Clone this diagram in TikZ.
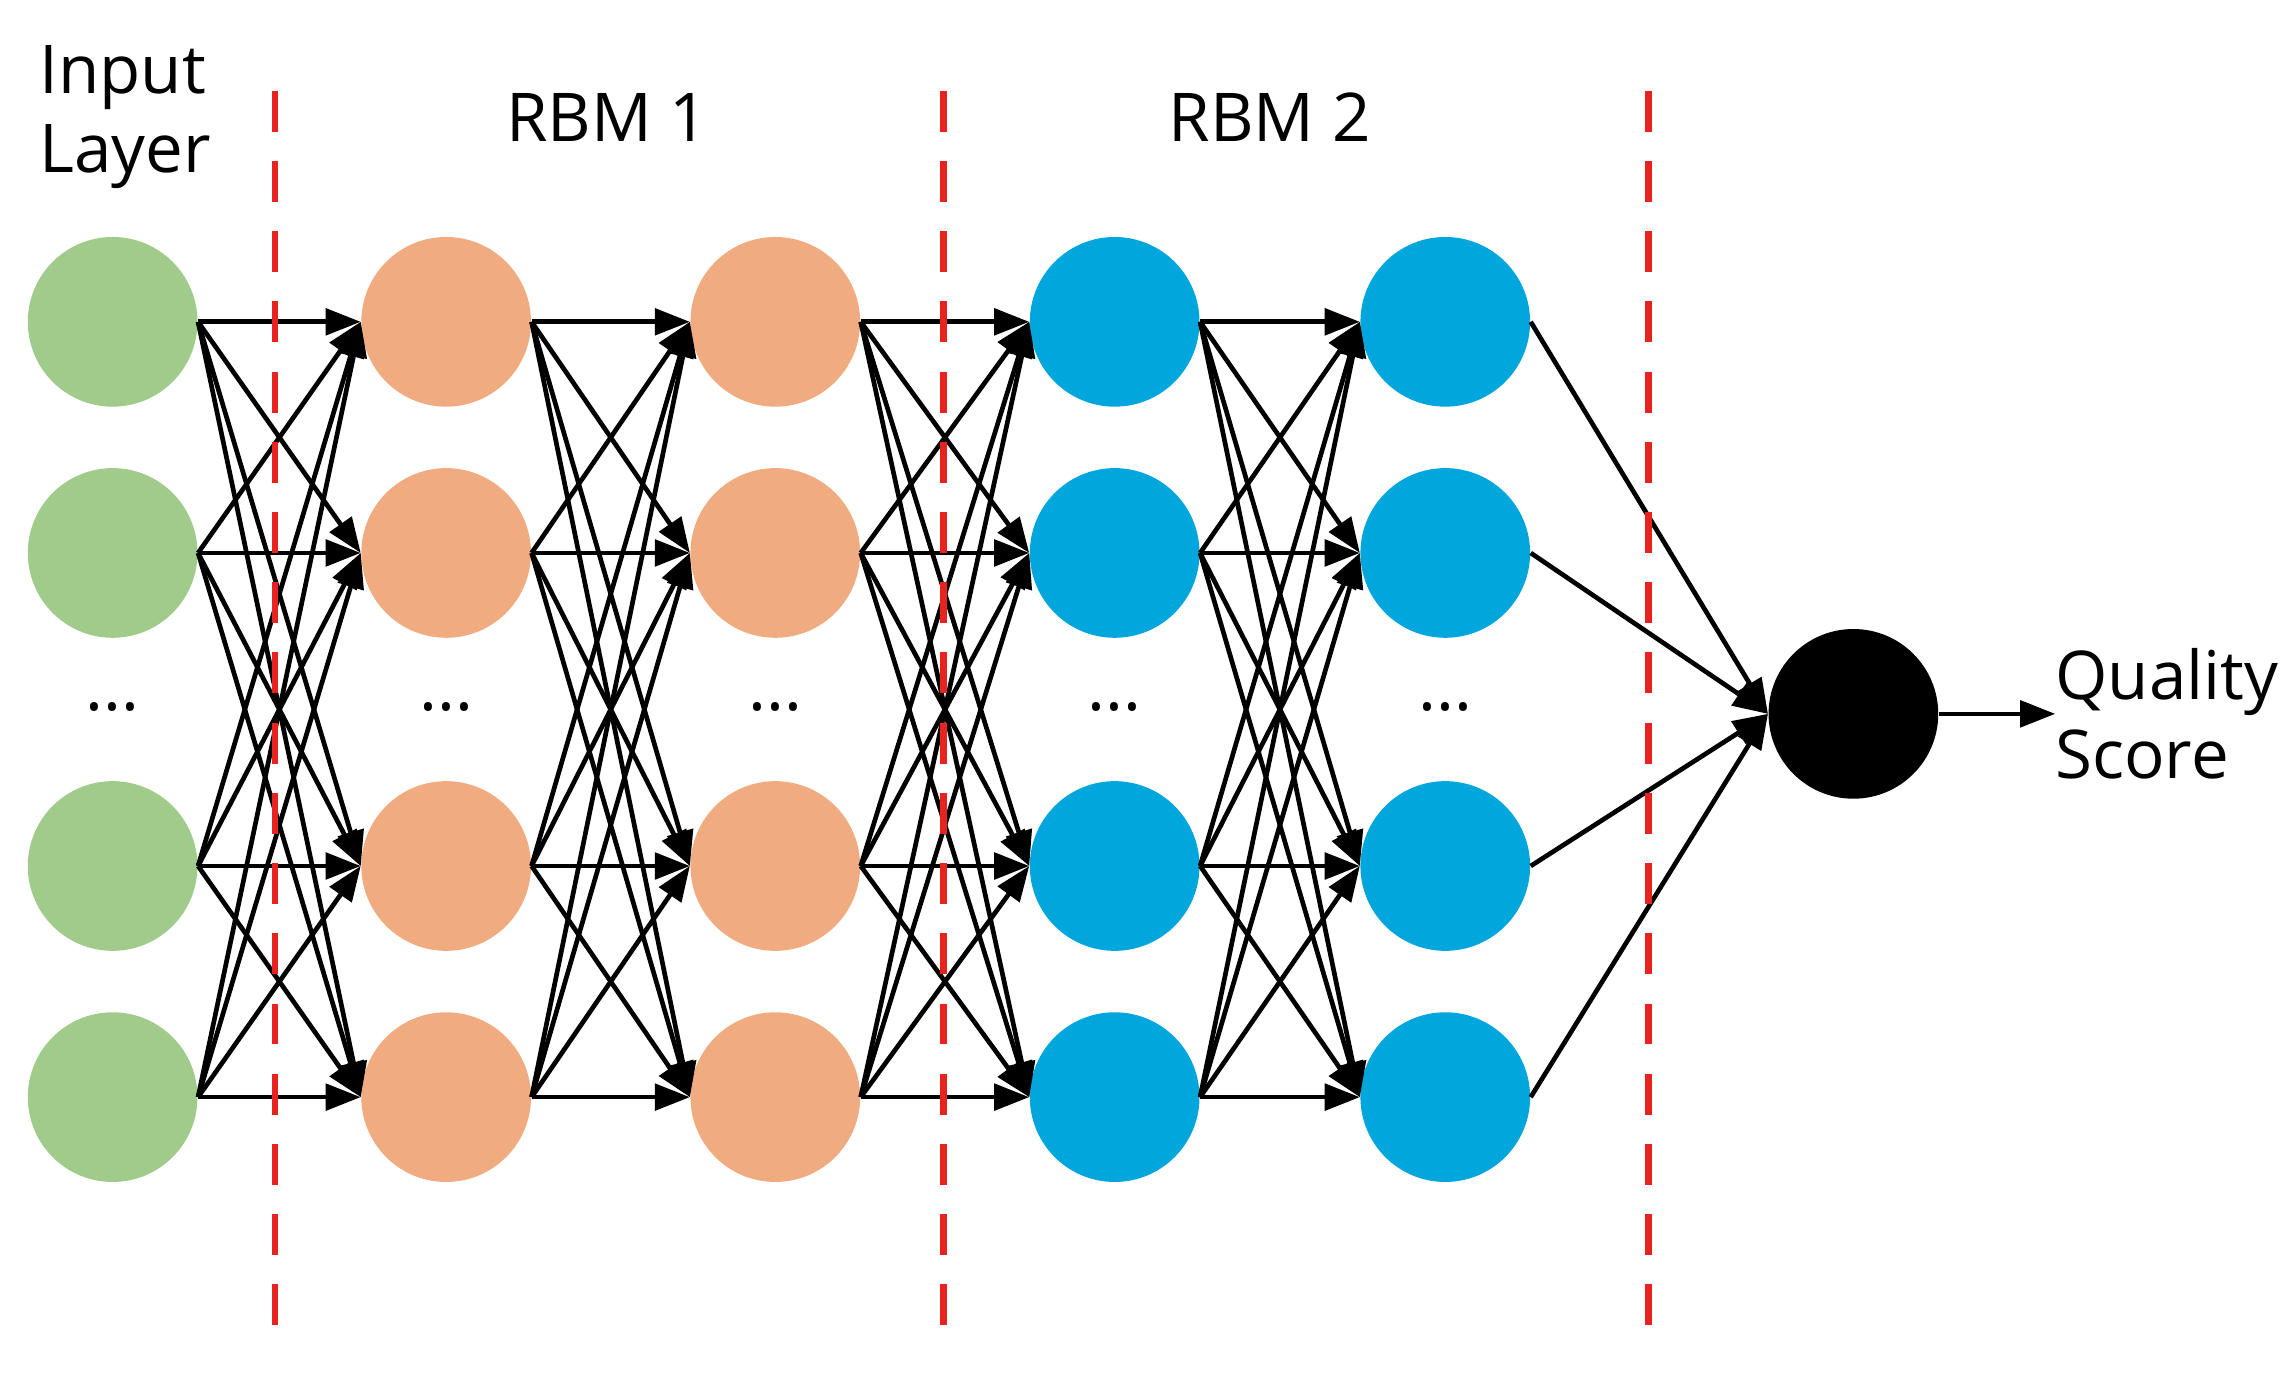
\documentclass[tikz,border=0pt]{standalone}
\usepackage{fontspec}
\setmainfont{Open Sans}
\usetikzlibrary{arrows.meta}
\definecolor{cg}{HTML}{A1CB8B}
\definecolor{co}{HTML}{F0AC80}
\definecolor{cb}{HTML}{00A6DC}
\definecolor{cr}{HTML}{E8231F}
\begin{document}
\begin{tikzpicture}[x=0.5pt,y=-0.5pt,
  neu/.style={circle,minimum size=58pt,inner sep=0pt},
  edge/.style={line width=1.6pt,-{Triangle[length=12pt,width=9pt]}},
  sep/.style={cr,line width=2.2pt,dash pattern=on 14pt off 10pt},
  lab/.style={font=\fontsize{23}{27}\selectfont,align=left}]
\useasboundingbox (0,0) rectangle (1560,943);
\foreach \x/\c/\n in {77/cg/a,305/co/b,530/co/c,762/cb/d,988/cb/e}{
  \foreach \y/\r in {220/1,378/2,592/3,750/4}
    \node[neu,fill=\c] (\n\r) at (\x,\y) {};
  \node[lab] (\n dots) at (\x,483) {...};
}
\node[neu,fill=black] (out) at (1267,488) {};
\coordinate (outend) at (1405,488);
\foreach \s/\t in {a/b,b/c,c/d,d/e}
  \foreach \i in {1,...,4}
    \foreach \j in {1,...,4}
      \draw[edge] (\s\i.east) -- (\t\j.west);
\foreach \i in {1,...,4} \draw[edge] (e\i.east) -- (out.west);
\draw[edge] (out.east) -- (outend);
\foreach \x/\n in {188/s1,645/s2,1127/s3}{
  \coordinate (\n t) at (\x,62); \coordinate (\n b) at (\x,912);
  \draw[sep] (\n t) -- (\n b);}
\node[lab,anchor=west] (inl) at (20,80) {Input\\Layer};
\node[lab] (r1) at (415,80) {RBM 1};
\node[lab] (r2) at (868,80) {RBM 2};
\node[lab,anchor=west] (qs) at (1398,488) {Quality\\Score};
\end{tikzpicture}
\end{document}
